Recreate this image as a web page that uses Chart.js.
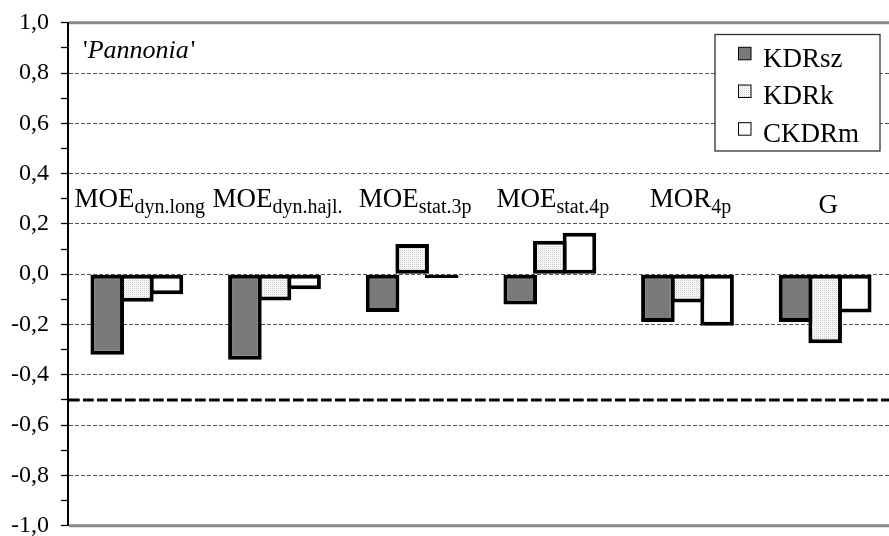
<!DOCTYPE html>
<html>
<head>
<meta charset="utf-8">
<script src="https://cdn.jsdelivr.net/npm/chart.js@4/dist/chart.umd.min.js"></script>
<style>
    html, body { margin: 0; padding: 0; background: #fff; overflow: hidden; }
    #wrap { width: 895px; height: 536px; position: relative; }
</style>
</head>
<body>
<div id="wrap"><canvas id="chart"></canvas></div>
<script>
/* 'Pannonia' – relative differences per property */

const categoryMain = ['MOE', 'MOE', 'MOE', 'MOE', 'MOR', 'G'];
const categorySub = ['dyn.long', 'dyn.hajl.', 'stat.3p', 'stat.4p', '4p', ''];
const seriesNames = ['KDRsz', 'KDRk', 'CKDRm'];
const kdrsz = [-0.32, -0.34, -0.15, -0.12, -0.19, -0.19];
const kdrk = [-0.11, -0.105, 0.12, 0.133, -0.113, -0.275];
const ckdrm = [-0.08, -0.06, -0.015, 0.165, -0.205, -0.152];
const yMin = -1.0;
const yMax = 1.0;
const yStep = 0.1;
const limitValue = -0.5;
const panelTitle = 'Pannonia';

const SERIF = '"Liberation Serif", "Times New Roman", serif';

// small fill patterns like the Excel hatching
function makePattern(base, dots) {
    const c = document.createElement('canvas');
    c.width = 2; c.height = 2;
    const g = c.getContext('2d');
    g.fillStyle = base;
    g.fillRect(0, 0, 2, 2);
    dots.forEach(d => { g.fillStyle = d[2]; g.fillRect(d[0], d[1], 1, 1); });
    return g.createPattern(c, 'repeat');
}
const darkFill = makePattern('#828282', [[0, 0, '#6c6c6c'], [1, 1, '#777777']]);
const lightFill = makePattern('#ffffff', [[0, 0, '#c9c9c9'], [1, 1, '#ececec']]);
const fills = [darkFill, lightFill, '#ffffff'];

function fmt(v) {
    return (Math.round(v * 10) / 10).toFixed(1).replace('.', ',');
}

const overlayPlugin = {
    id: 'overlay',
    afterDraw(chart) {
        const { ctx, chartArea: a, scales: { x, y } } = chart;
        ctx.save();

        // top and bottom frame lines
        ctx.strokeStyle = '#8a8a8a';
        ctx.lineWidth = 3;
        ctx.beginPath();
        ctx.moveTo(a.left + 1, y.getPixelForValue(yMax));
        ctx.lineTo(a.right, y.getPixelForValue(yMax));
        ctx.moveTo(a.left + 1, y.getPixelForValue(yMin));
        ctx.lineTo(a.right, y.getPixelForValue(yMin));
        ctx.stroke();

        // limit line
        ctx.strokeStyle = '#000';
        ctx.lineWidth = 3;
        ctx.setLineDash([10.7, 3.3]);
        ctx.beginPath();
        ctx.moveTo(a.left + 1, y.getPixelForValue(limitValue));
        ctx.lineTo(a.right, y.getPixelForValue(limitValue));
        ctx.stroke();
        ctx.setLineDash([]);

        // category labels with subscripts
        ctx.fillStyle = '#000';
        ctx.textBaseline = 'alphabetic';
        ctx.textAlign = 'left';
        const mainFont = '27px ' + SERIF;
        const subFont = '20px ' + SERIF;
        const base = y.getPixelForValue(0.268);
        categoryMain.forEach((m, i) => {
            ctx.font = mainFont;
            const wm = ctx.measureText(m).width;
            ctx.font = subFont;
            const ws = categorySub[i] ? ctx.measureText(categorySub[i]).width : 0;
            const cx = x.getPixelForValue(i) + 3;
            const left = cx - (wm + ws) / 2;
            const by = categorySub[i] ? base : base + 6;
            ctx.font = mainFont;
            ctx.fillText(m, left, by);
            if (categorySub[i]) {
                ctx.font = subFont;
                ctx.fillText(categorySub[i], left + wm, base + 6);
            }
        });

        // panel title
        ctx.font = '26px ' + SERIF;
        let tx = 83;
        ctx.fillText("'", tx, 58.3);
        tx += ctx.measureText("'").width;
        ctx.font = 'italic 26px ' + SERIF;
        ctx.fillText(panelTitle, tx, 58.3);
        tx += ctx.measureText(panelTitle).width;
        ctx.font = '26px ' + SERIF;
        ctx.fillText("'", tx + 2, 58.3);

        // legend
        ctx.fillStyle = '#fff';
        ctx.fillRect(715, 34.5, 165, 116.5);
        ctx.strokeStyle = '#333';
        ctx.lineWidth = 1.3;
        ctx.strokeRect(715, 34.5, 165, 116.5);
        chart.data.datasets.forEach((ds, i) => {
            const top = 47.3 + i * 37.7;
            ctx.fillStyle = ds.backgroundColor;
            ctx.fillRect(738.5, top, 12.5, 12.5);
            ctx.strokeStyle = '#000';
            ctx.lineWidth = 1;
            ctx.strokeRect(738.5, top, 12.5, 12.5);
            ctx.fillStyle = '#000';
            ctx.font = '27px ' + SERIF;
            ctx.fillText(ds.label, 763, top + 19.3);
        });

        ctx.restore();
    }
};

const seriesData = [kdrsz, kdrk, ckdrm];

new Chart(document.getElementById('chart'), {
    type: 'bar',
    data: {
        labels: categoryMain.map((m, i) => m + ' ' + categorySub[i]),
        datasets: seriesNames.map((name, i) => ({
            label: name,
            data: seriesData[i],
            backgroundColor: fills[i],
            borderColor: '#000',
            borderWidth: 4,
            borderSkipped: false,
            inflateAmount: 0,
            barPercentage: 1.135,
            categoryPercentage: 0.645
        }))
    },
    options: {
        responsive: true,
        maintainAspectRatio: false,
        animation: false,
        devicePixelRatio: 1,
        layout: { padding: { top: 22.7, bottom: 10.3, left: 0, right: 1 } },
        plugins: {
            legend: { display: false },
            tooltip: { enabled: false }
        },
        scales: {
            x: { display: false },
            y: {
                min: yMin,
                max: yMax,
                afterFit(s) {
                    s.width = 68;
                    s.paddingTop = 0;
                    s.paddingBottom = 0;
                },
                ticks: {
                    stepSize: yStep,
                    autoSkip: false,
                    padding: 12,
                    color: '#000',
                    font: { family: SERIF, size: 24 },
                    callback: v => (Math.round(v * 10) % 2 === 0 ? fmt(v) : '')
                },
                grid: {
                    color: c => {
                        if (!c.tick) return 'rgba(0,0,0,0)';
                        const k = Math.round(c.tick.value * 10);
                        return (k % 2 === 0 && Math.abs(k) < 10) ? '#555' : 'rgba(0,0,0,0)';
                    },
                    lineWidth: 1,
                    tickColor: '#000',
                    tickLength: 7,
                    tickWidth: 1.3
                },
                border: { display: true, color: '#000', width: 2, dash: [4, 2] }
            }
        }
    },
    plugins: [overlayPlugin]
});
</script>
</body>
</html>
